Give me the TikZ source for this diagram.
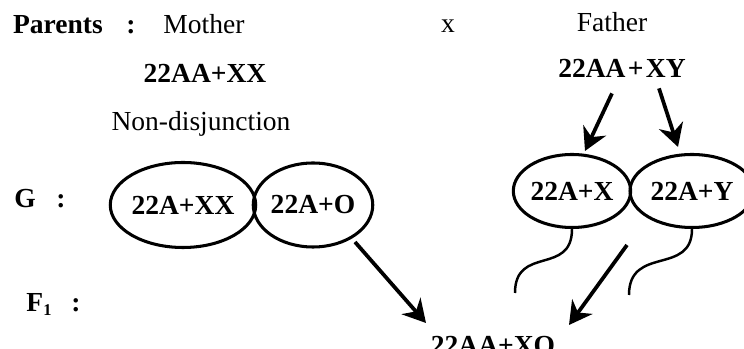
\documentclass[tikz,border=0pt]{standalone}
\usepackage{fontspec}
\setmainfont{Liberation Serif}
\usetikzlibrary{shapes.geometric,arrows.meta}

\begin{document}
\begin{tikzpicture}[x=0.03cm, y=-0.03cm,
  every node/.style={font=\fontsize{23.5}{28}\selectfont, inner sep=1pt, anchor=base},
  gam/.style={ellipse, draw, line width=2.6pt, inner sep=0pt, anchor=center, font=\fontsize{23.5}{28}\selectfont\bfseries},
  arr/.style={line width=3.2pt, -{Stealth[length=0.68cm, width=0.75cm, inset=0.22cm]}},
  tail/.style={line width=2.1pt},
]
\useasboundingbox (0,0) rectangle (744,349);
\clip (0,0) rectangle (744,349);

% parents
\node (par) at (58,34) {\bfseries Parents};
\node (parcol) at (131,34) {\bfseries :};
\node (mom) at (204,34) {Mother};
\node (cross) at (448,33) {x};
\node (dad) at (612,32) {Father};
\node (mxx) at (205,83) {\bfseries 22AA+XX};
\node (fxy) at (622,78) {\bfseries 22AA\kern2pt+\kern2pt XY};
\node (nd) at (201,131) {Non-disjunction};

% gametes
\node (g) at (25,208) {\bfseries G};
\node (gcol) at (61,208) {\bfseries :};
\node[gam, minimum width=3.87cm, minimum height=2.55cm] (mxxg) at (183,205) {22A+XX};
\node[gam, minimum width=3.54cm, minimum height=2.52cm] (mo) at (313,205) {22A+O};
\node[gam, minimum width=3.42cm, minimum height=2.19cm] (px) at (572,191) {22A+X};
\node[gam, minimum width=3.72cm, minimum height=2.19cm] (py) at (692,191) {22A+Y};

% offspring
\node (f1) at (39,312) {\bfseries F\raisebox{-3pt}{\fontsize{14}{16}\selectfont 1}};
\node (fcol) at (76,312) {\bfseries :};
\node (zyg) at (493,355) {\bfseries 22AA+XO};

\draw[arr] ([shift={(-10,14)}]fxy.south) -- ([shift={(13,-2)}]px.north);
\draw[arr] ([shift={(37,9)}]fxy.south) -- ([shift={(-14,-6)}]py.north);
\draw[arr] ([shift={(42,37)}]mo.center) -- ([shift={(-67,-32)}]zyg.base);
\draw[arr] ([shift={(55,54)}]px.center) -- ([shift={(76,-30)}]zyg.base);

% sperm tails
\coordinate (tx) at (515,293);
\coordinate (ty) at (629,295);
\draw[tail] (px.south) .. controls ++(0,47) and ++(0,-48) .. (tx);
\draw[tail] (py.south) .. controls ++(0,47) and ++(0,-50) .. (ty);
\end{tikzpicture}
\end{document}
